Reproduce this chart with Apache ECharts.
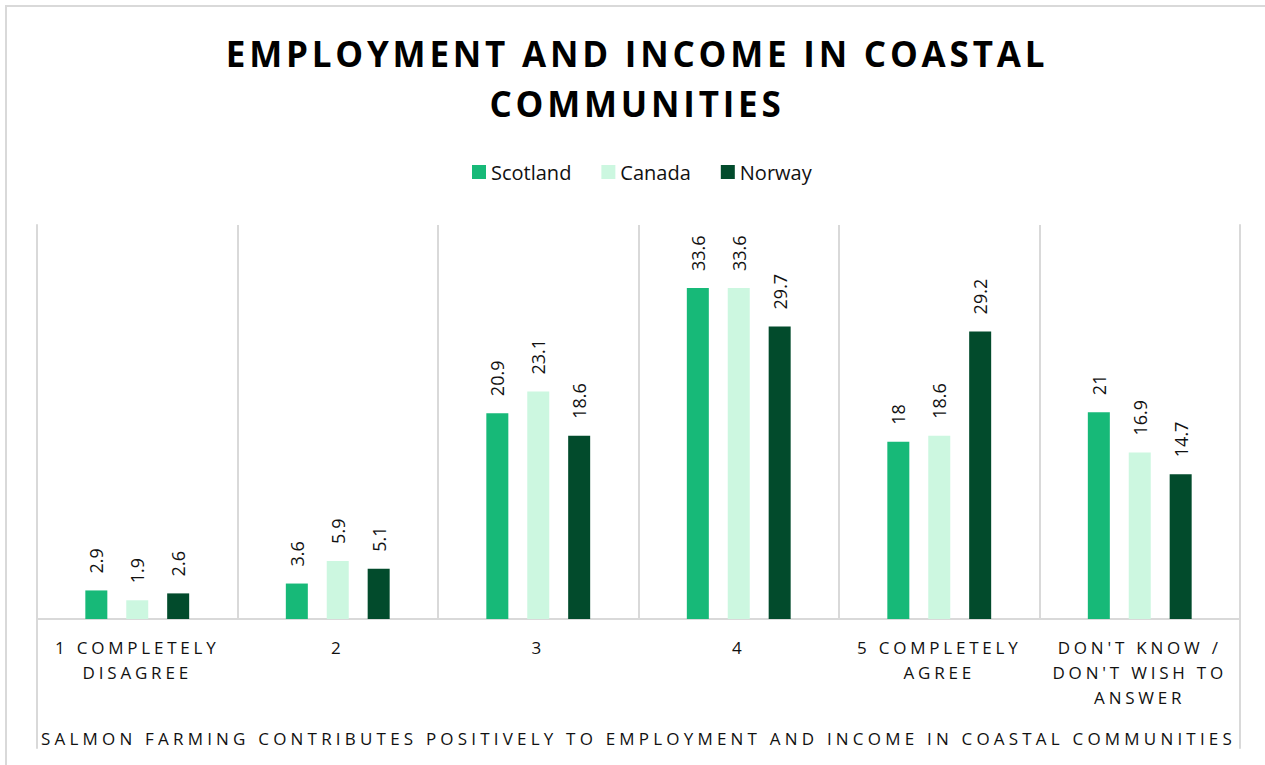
<!DOCTYPE html>
<html>
<head>
<meta charset="utf-8">
<script src="https://cdn.jsdelivr.net/npm/echarts@6/dist/echarts.min.js"></script>
<style>
  html, body { margin: 0; padding: 0; background: #fff; }
  #chart { width: 1265px; height: 765px; }
  #chart text[style*="lsA"] { letter-spacing: 3.8px; }
  #chart text[style*="lsB"] { letter-spacing: 3.8px; }
  #chart text[style*="lsC"] { letter-spacing: 4.2px; }
</style>
</head>
<body>
<div id="chart"></div>
<script>
const titleText = 'EMPLOYMENT AND INCOME IN COASTAL\nCOMMUNITIES';
const axisName = 'SALMON FARMING CONTRIBUTES POSITIVELY TO EMPLOYMENT AND INCOME IN COASTAL COMMUNITIES';
const categories = ['1 COMPLETELY\nDISAGREE', '2', '3', '4', '5 COMPLETELY\nAGREE', "DON'T KNOW /\nDON'T WISH TO\nANSWER"];
const seriesNames = ['Scotland', 'Canada', 'Norway'];
const scotland = [2.9, 3.6, 20.9, 33.6, 18, 21];
const canada = [1.9, 5.9, 23.1, 33.6, 18.6, 16.9];
const norway = [2.6, 5.1, 18.6, 29.7, 29.2, 14.7];
const colors = ['#17B978', '#CCF7E0', '#024B2C'];

const labelFont = "'Open Sans', lsA";
const titleFont = "'Open Sans', lsB";
const nameFont = "'Open Sans', lsC";
const plainFont = "'Open Sans'";

const chart = echarts.init(document.getElementById('chart'), null, { renderer: 'svg' });

function barSeries(name, data, color) {
  return {
    name: name,
    type: 'bar',
    data: data,
    barWidth: 22,
    barGap: '86%',
    itemStyle: { color: color },
    label: {
      show: true,
      position: 'top',
      rotate: 90,
      align: 'left',
      verticalAlign: 'middle',
      distance: 17,
      fontFamily: plainFont,
      fontSize: 18,
      color: '#111'
    }
  };
}

chart.setOption({
  backgroundColor: '#fff',
  animation: false,
  color: colors,
  title: {
    text: titleText,
    left: 637,
    top: 28,
    padding: 0,
    textAlign: 'center',
    textStyle: {
      fontFamily: titleFont,
      fontWeight: 'bold',
      fontSize: 35,
      lineHeight: 50,
      color: '#000'
    }
  },
  legend: {
    data: seriesNames,
    left: 472,
    top: 162,
    padding: 0,
    itemWidth: 14,
    itemHeight: 14,
    itemGap: 30,
    icon: 'rect',
    textStyle: { fontFamily: plainFont, fontSize: 20, color: '#111' }
  },
  graphic: [{
    type: 'rect',
    silent: true,
    shape: { x: 6, y: 6, width: 1300, height: 800 },
    style: { fill: 'none', stroke: '#d9d9d9', lineWidth: 2 }
  }],
  grid: [
    { left: 37, right: 25, top: 225, bottom: 146 },
    { left: 37, right: 25, top: 225, bottom: 17 }
  ],
  xAxis: [{
    type: 'category',
    gridIndex: 0,
    data: categories,
    axisLine: { show: true, lineStyle: { color: '#d9d9d9', width: 2 } },
    axisTick: { show: false },
    splitLine: { show: true, interval: 0, lineStyle: { color: '#d9d9d9', width: 2 } },
    axisLabel: {
      interval: 0,
      margin: 16,
      fontFamily: labelFont,
      fontSize: 17,
      lineHeight: 25,
      color: '#111'
    },
    name: axisName,
    nameLocation: 'middle',
    nameGap: 111,
    nameTextStyle: { fontFamily: nameFont, fontSize: 17, color: '#111' }
  }, {
    type: 'category',
    gridIndex: 1,
    data: categories,
    show: false
  }],
  yAxis: [{
    type: 'value',
    gridIndex: 0,
    min: 0,
    max: 40,
    show: false
  }, {
    type: 'value',
    gridIndex: 1,
    position: 'left',
    axisLine: { show: true, lineStyle: { color: '#d9d9d9', width: 2 } },
    axisTick: { show: false },
    axisLabel: { show: false },
    splitLine: { show: false }
  }, {
    type: 'value',
    gridIndex: 1,
    position: 'right',
    axisLine: { show: true, lineStyle: { color: '#d9d9d9', width: 2 } },
    axisTick: { show: false },
    axisLabel: { show: false },
    splitLine: { show: false }
  }],
  series: [
    barSeries(seriesNames[0], scotland, colors[0]),
    barSeries(seriesNames[1], canada, colors[1]),
    barSeries(seriesNames[2], norway, colors[2])
  ]
});
</script>
</body>
</html>
